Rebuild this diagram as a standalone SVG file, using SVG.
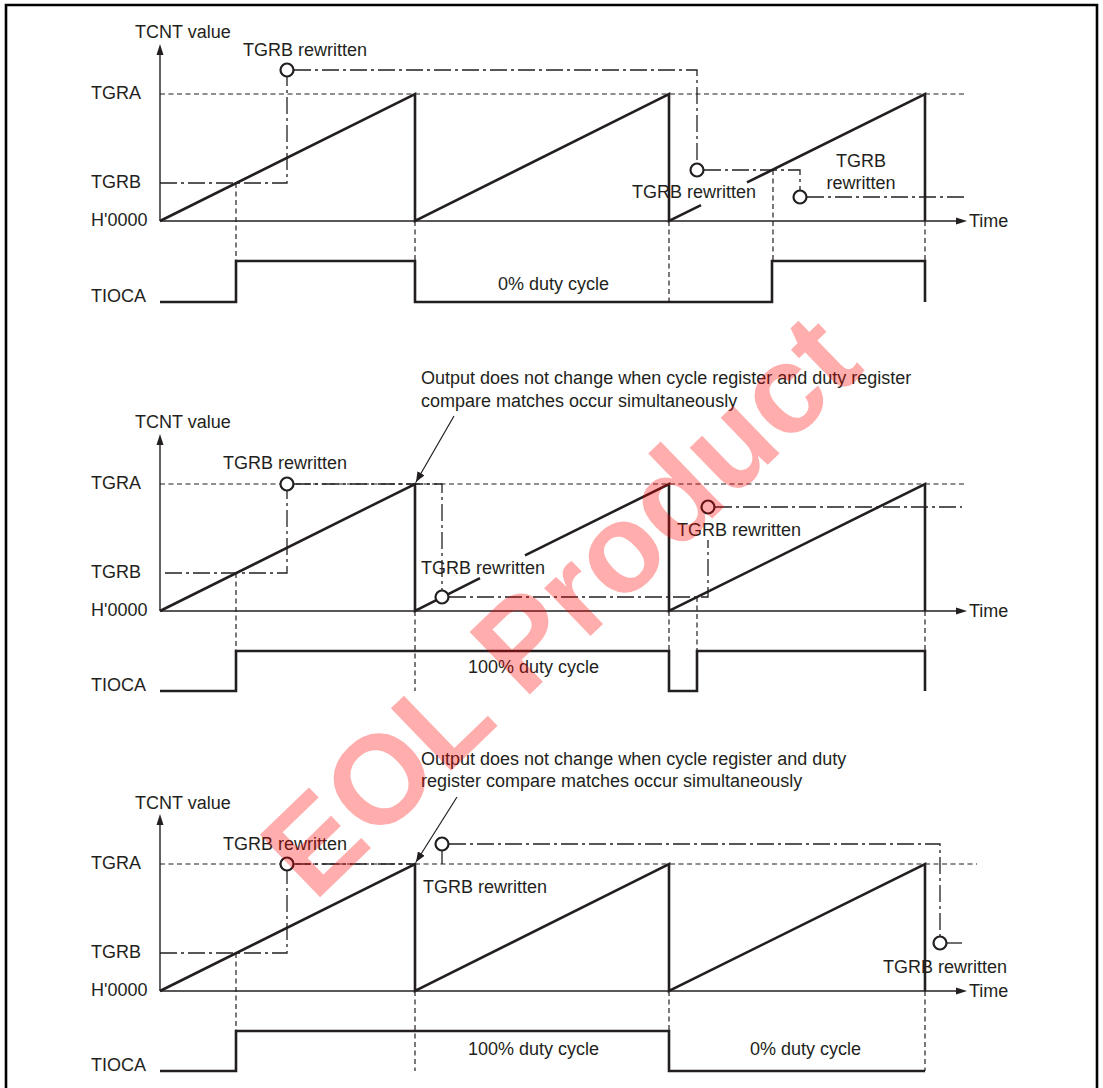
<svg xmlns="http://www.w3.org/2000/svg" width="1103" height="1088" viewBox="0 0 1103 1088">
<style>
text{font-family:"Liberation Sans",Arial,sans-serif;font-size:18px;fill:#231f20}
.thick{fill:none;stroke:#231f20;stroke-width:2.6;stroke-linejoin:miter}
.axis{fill:none;stroke:#231f20;stroke-width:1.4}
.dash{fill:none;stroke:#231f20;stroke-width:1.2;stroke-dasharray:5 3.5}
.dd{fill:none;stroke:#231f20;stroke-width:1.3;stroke-dasharray:17 4 3 4}
.circ{fill:#fff;stroke:#231f20;stroke-width:2.2}
.head{fill:#231f20}
.ann{fill:none;stroke:#231f20;stroke-width:1.2;marker-end:url(#arr)}
.wm{font-family:"Liberation Sans",Arial,sans-serif;font-weight:bold;font-size:126px;fill:#ff0000;fill-opacity:0.32}
</style>
<defs>
<marker id="arr" viewBox="0 0 10 8" refX="10" refY="4" markerWidth="10" markerHeight="8" markerUnits="userSpaceOnUse" orient="auto">
<path d="M0,0 L10,4 L0,8 Z" fill="#231f20"/>
</marker>
</defs>
<rect width="1103" height="1088" fill="#fff"/>
<path d="M6,1092 V5 H1097 V1092" fill="none" stroke="#000" stroke-width="2.6"/>

<!-- Panel 1 -->
<g id="panel1">
<g id="p1-labels">
<text x="135" y="38">TCNT value</text>
<text x="91" y="99">TGRA</text>
<text x="91" y="188">TGRB</text>
<text x="91" y="226">H'0000</text>
<text x="91" y="302">TIOCA</text>
<text x="969" y="227">Time</text>
<text x="498" y="290">0% duty cycle</text>
</g>
<g id="p1-axes">
<path class="axis" d="M160,221 V54"/>
<path class="head" d="M160,44 L156.5,55 L163.5,55 Z"/>
<path class="axis" d="M160,221 H957"/>
<path class="head" d="M967,221 L956,217.5 L956,224.5 Z"/>
</g>
<g id="p1-guides">
<path class="dash" d="M160,94 H967"/>
<path class="dash" d="M236,183 V261 M415,221 V302 M669,221 V302 M773,170 V261 M925,221 V261"/>
</g>
<g id="p1-tcnt">
<path class="thick" d="M160,221 L415,94 V221 L669,94 V221 L701,205.2"/>
<path class="thick" d="M747,182.4 L925,94 V221"/>
</g>
<g id="p1-tioca">
<path class="thick" d="M160,302 H236 V261 H415 V302 H772 V261 H925 V302"/>
</g>
<g id="p1-tgrb">
<path class="dd" d="M160,183 H287 V77"/>
<path class="dd" d="M294,70 H697 V163"/>
<path class="dd" d="M704,170 H800 V190"/>
<path class="dd" d="M807,197 H964"/>
<circle class="circ" cx="287" cy="70" r="6.5"/>
<circle class="circ" cx="697" cy="170" r="6.5"/>
<circle class="circ" cx="800" cy="197" r="6.5"/>
<text x="243" y="56">TGRB rewritten</text>
<text x="632" y="198">TGRB rewritten</text>
<text x="861" y="167" text-anchor="middle">TGRB</text>
<text x="861" y="189" text-anchor="middle">rewritten</text>
</g>
</g>

<!-- Panel 2 -->
<g id="panel2">
<g id="p2-labels">
<text x="421" y="383.5">Output does not change when cycle register and duty register</text>
<text x="421" y="406.5">compare matches occur simultaneously</text>
<text x="135" y="428">TCNT value</text>
<text x="91" y="489">TGRA</text>
<text x="91" y="578">TGRB</text>
<text x="91" y="616">H'0000</text>
<text x="91" y="691">TIOCA</text>
<text x="969" y="617">Time</text>
<text x="468" y="673">100% duty cycle</text>
</g>
<g id="p2-axes">
<path class="axis" d="M160,611 V444"/>
<path class="head" d="M160,434 L156.5,445 L163.5,445 Z"/>
<path class="axis" d="M160,611 H957"/>
<path class="head" d="M967,611 L956,607.5 L956,614.5 Z"/>
</g>
<g id="p2-guides">
<path class="dash" d="M160,484 H966"/>
<path class="dash" d="M236,573 V651 M415,611 V691 M669,611 V651 M697,597 V651 M925,611 V651"/>
</g>
<g id="p2-tcnt">
<path class="thick" d="M160,611 L415,484 V611 L480,578.2"/>
<path class="thick" d="M525,555.4 L669,484 V611 L925,484 V611"/>
</g>
<g id="p2-tioca">
<path class="thick" d="M160,691 H236 V651 H669 V691 H697 V651 H925 V691"/>
</g>
<g id="p2-tgrb">
<path class="dd" d="M165,573 H287 V491"/>
<path class="dd" d="M294,484 H442 V590"/>
<path class="dd" d="M449,597 H708 V540"/>
<path class="dd" d="M715,507 H962"/>
<circle class="circ" cx="287" cy="484" r="6.5"/>
<circle class="circ" cx="442" cy="597" r="6.5"/>
<circle class="circ" cx="708" cy="507" r="6.5"/>
<text x="223" y="469">TGRB rewritten</text>
<text x="421" y="574">TGRB rewritten</text>
<text x="677" y="536">TGRB rewritten</text>
</g>
<g id="p2-note">
<path class="ann" d="M454,416 L416,482"/>
</g>
</g>

<!-- Panel 3 -->
<g id="panel3">
<g id="p3-labels">
<text x="421" y="765">Output does not change when cycle register and duty</text>
<text x="421" y="787">register compare matches occur simultaneously</text>
<text x="135" y="809">TCNT value</text>
<text x="91" y="869">TGRA</text>
<text x="91" y="958">TGRB</text>
<text x="91" y="996">H'0000</text>
<text x="91" y="1071">TIOCA</text>
<text x="969" y="997">Time</text>
<text x="468" y="1055">100% duty cycle</text>
<text x="750" y="1055">0% duty cycle</text>
</g>
<g id="p3-axes">
<path class="axis" d="M160,991 V824"/>
<path class="head" d="M160,814 L156.5,825 L163.5,825 Z"/>
<path class="axis" d="M160,991 H957"/>
<path class="head" d="M967,991 L956,987.5 L956,994.5 Z"/>
</g>
<g id="p3-guides">
<path class="dash" d="M160,864 H977"/>
<path class="dash" d="M236,953 V1031 M415,991 V1071 M669,991 V1031 M925,991 V1071"/>
</g>
<g id="p3-tcnt">
<path class="thick" d="M160,991 L415,864 V991 L669,864 V991 L925,864 V991"/>
</g>
<g id="p3-tioca">
<path class="thick" d="M160,1071 H236 V1031 H669 V1071 H925"/>
</g>
<g id="p3-tgrb">
<path class="dd" d="M160,953 H287 V871"/>
<path class="dd" d="M294,864 H415"/>
<path class="dd" d="M442,851 V864"/>
<path class="dd" d="M449,844 H940 V936"/>
<path class="dd" d="M947,943 H962"/>
<circle class="circ" cx="287" cy="864" r="6.5"/>
<circle class="circ" cx="442" cy="844" r="6.5"/>
<circle class="circ" cx="940" cy="943" r="6.5"/>
<text x="223" y="850">TGRB rewritten</text>
<text x="423" y="893">TGRB rewritten</text>
<text x="883" y="973">TGRB rewritten</text>
</g>
<g id="p3-note">
<path class="ann" d="M457,797 L416,862"/>
</g>
</g>

<text class="wm" x="314" y="903" transform="rotate(-44 314 903)">EOL Product</text>
</svg>
